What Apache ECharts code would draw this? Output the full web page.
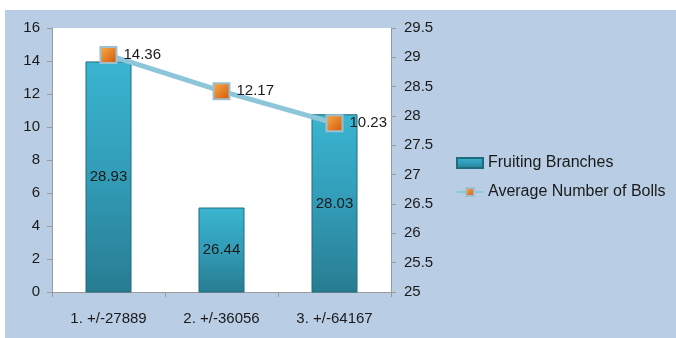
<!DOCTYPE html>
<html>
<head>
<meta charset="utf-8">
<script src="https://cdn.jsdelivr.net/npm/echarts@6/dist/echarts.min.js"></script>
<style>
  html, body { margin: 0; padding: 0; background: #ffffff; }
  #chart { width: 676px; height: 338px; }
</style>
</head>
<body>
<div id="chart"></div>
<script>
// Categories and series values
const categories = ['1. +/-27889', '2. +/-36056', '3. +/-64167'];
const fruitingBranches = [28.93, 26.44, 28.03];
const averageBolls = [14.36, 12.17, 10.23];

const FONT = 'Liberation Sans, Arial, sans-serif';
const TEXT = '#1a1a1a';

const chart = echarts.init(document.getElementById('chart'), null, { renderer: 'canvas' });

const barFill = new echarts.graphic.LinearGradient(0, 0, 0, 1, [
  { offset: 0, color: '#3ab5d1' },
  { offset: 0.5, color: '#329cb7' },
  { offset: 1, color: '#277c91' }
]);
const markerFill = new echarts.graphic.LinearGradient(0, 0, 1, 1, [
  { offset: 0, color: '#f9b04a' },
  { offset: 1, color: '#d0540a' }
]);

chart.setOption({
  animation: false,
  textStyle: { fontFamily: FONT },
  graphic: [{
    type: 'rect',
    left: 5, top: 10,
    shape: { width: 671, height: 328 },
    style: { fill: '#b9cde5' },
    z: -10
  }],
  grid: {
    left: 52, top: 28, right: 285, bottom: 46,
    show: true, backgroundColor: '#ffffff', borderWidth: 0
  },
  legend: {
    orient: 'vertical',
    left: 451, top: 150,
    itemGap: 13,
    itemWidth: 26, itemHeight: 10,
    textStyle: { fontSize: 16, color: TEXT, fontFamily: FONT },
    data: [
      { name: 'Fruiting Branches', icon: 'rect' },
      { name: 'Average Number of Bolls' }
    ]
  },
  xAxis: {
    type: 'category',
    data: categories,
    axisLine: { lineStyle: { color: '#9a9a9a' } },
    axisTick: { show: true, length: 5, lineStyle: { color: '#9a9a9a' } },
    axisLabel: { fontSize: 15, color: TEXT, margin: 19 }
  },
  yAxis: [
    {
      type: 'value', min: 0, max: 16, interval: 2,
      axisLine: { show: true, lineStyle: { color: '#9a9a9a' } },
      axisTick: { show: true, length: 5, lineStyle: { color: '#9a9a9a' } },
      splitLine: { show: false },
      axisLabel: { fontSize: 15, color: TEXT, margin: 12 }
    },
    {
      type: 'value', min: 25, max: 29.5, interval: 0.5,
      position: 'right',
      axisLine: { show: true, lineStyle: { color: '#9a9a9a' } },
      axisTick: { show: true, length: 5, lineStyle: { color: '#9a9a9a' } },
      splitLine: { show: false },
      axisLabel: { fontSize: 15, color: TEXT, margin: 13 }
    }
  ],
  series: [
    {
      name: 'Fruiting Branches',
      type: 'bar',
      yAxisIndex: 1,
      data: fruitingBranches,
      barWidth: 46,
      z: 2,
      itemStyle: {
        color: barFill,
        borderColor: '#1f6c7e',
        borderWidth: 1
      },
      label: {
        show: true, position: 'inside',
        fontSize: 15, color: TEXT, fontFamily: FONT
      }
    },
    {
      name: 'Average Number of Bolls',
      type: 'line',
      yAxisIndex: 0,
      data: averageBolls,
      z: 5,
      symbol: 'rect',
      symbolSize: 16,
      lineStyle: { color: '#8ec6d9', width: 5 },
      itemStyle: {
        color: markerFill,
        borderColor: '#9dbfcf',
        borderWidth: 2
      },
      label: {
        show: true, position: 'right', distance: 6,
        fontSize: 15, color: TEXT, fontFamily: FONT
      }
    }
  ]
});
</script>
</body>
</html>
